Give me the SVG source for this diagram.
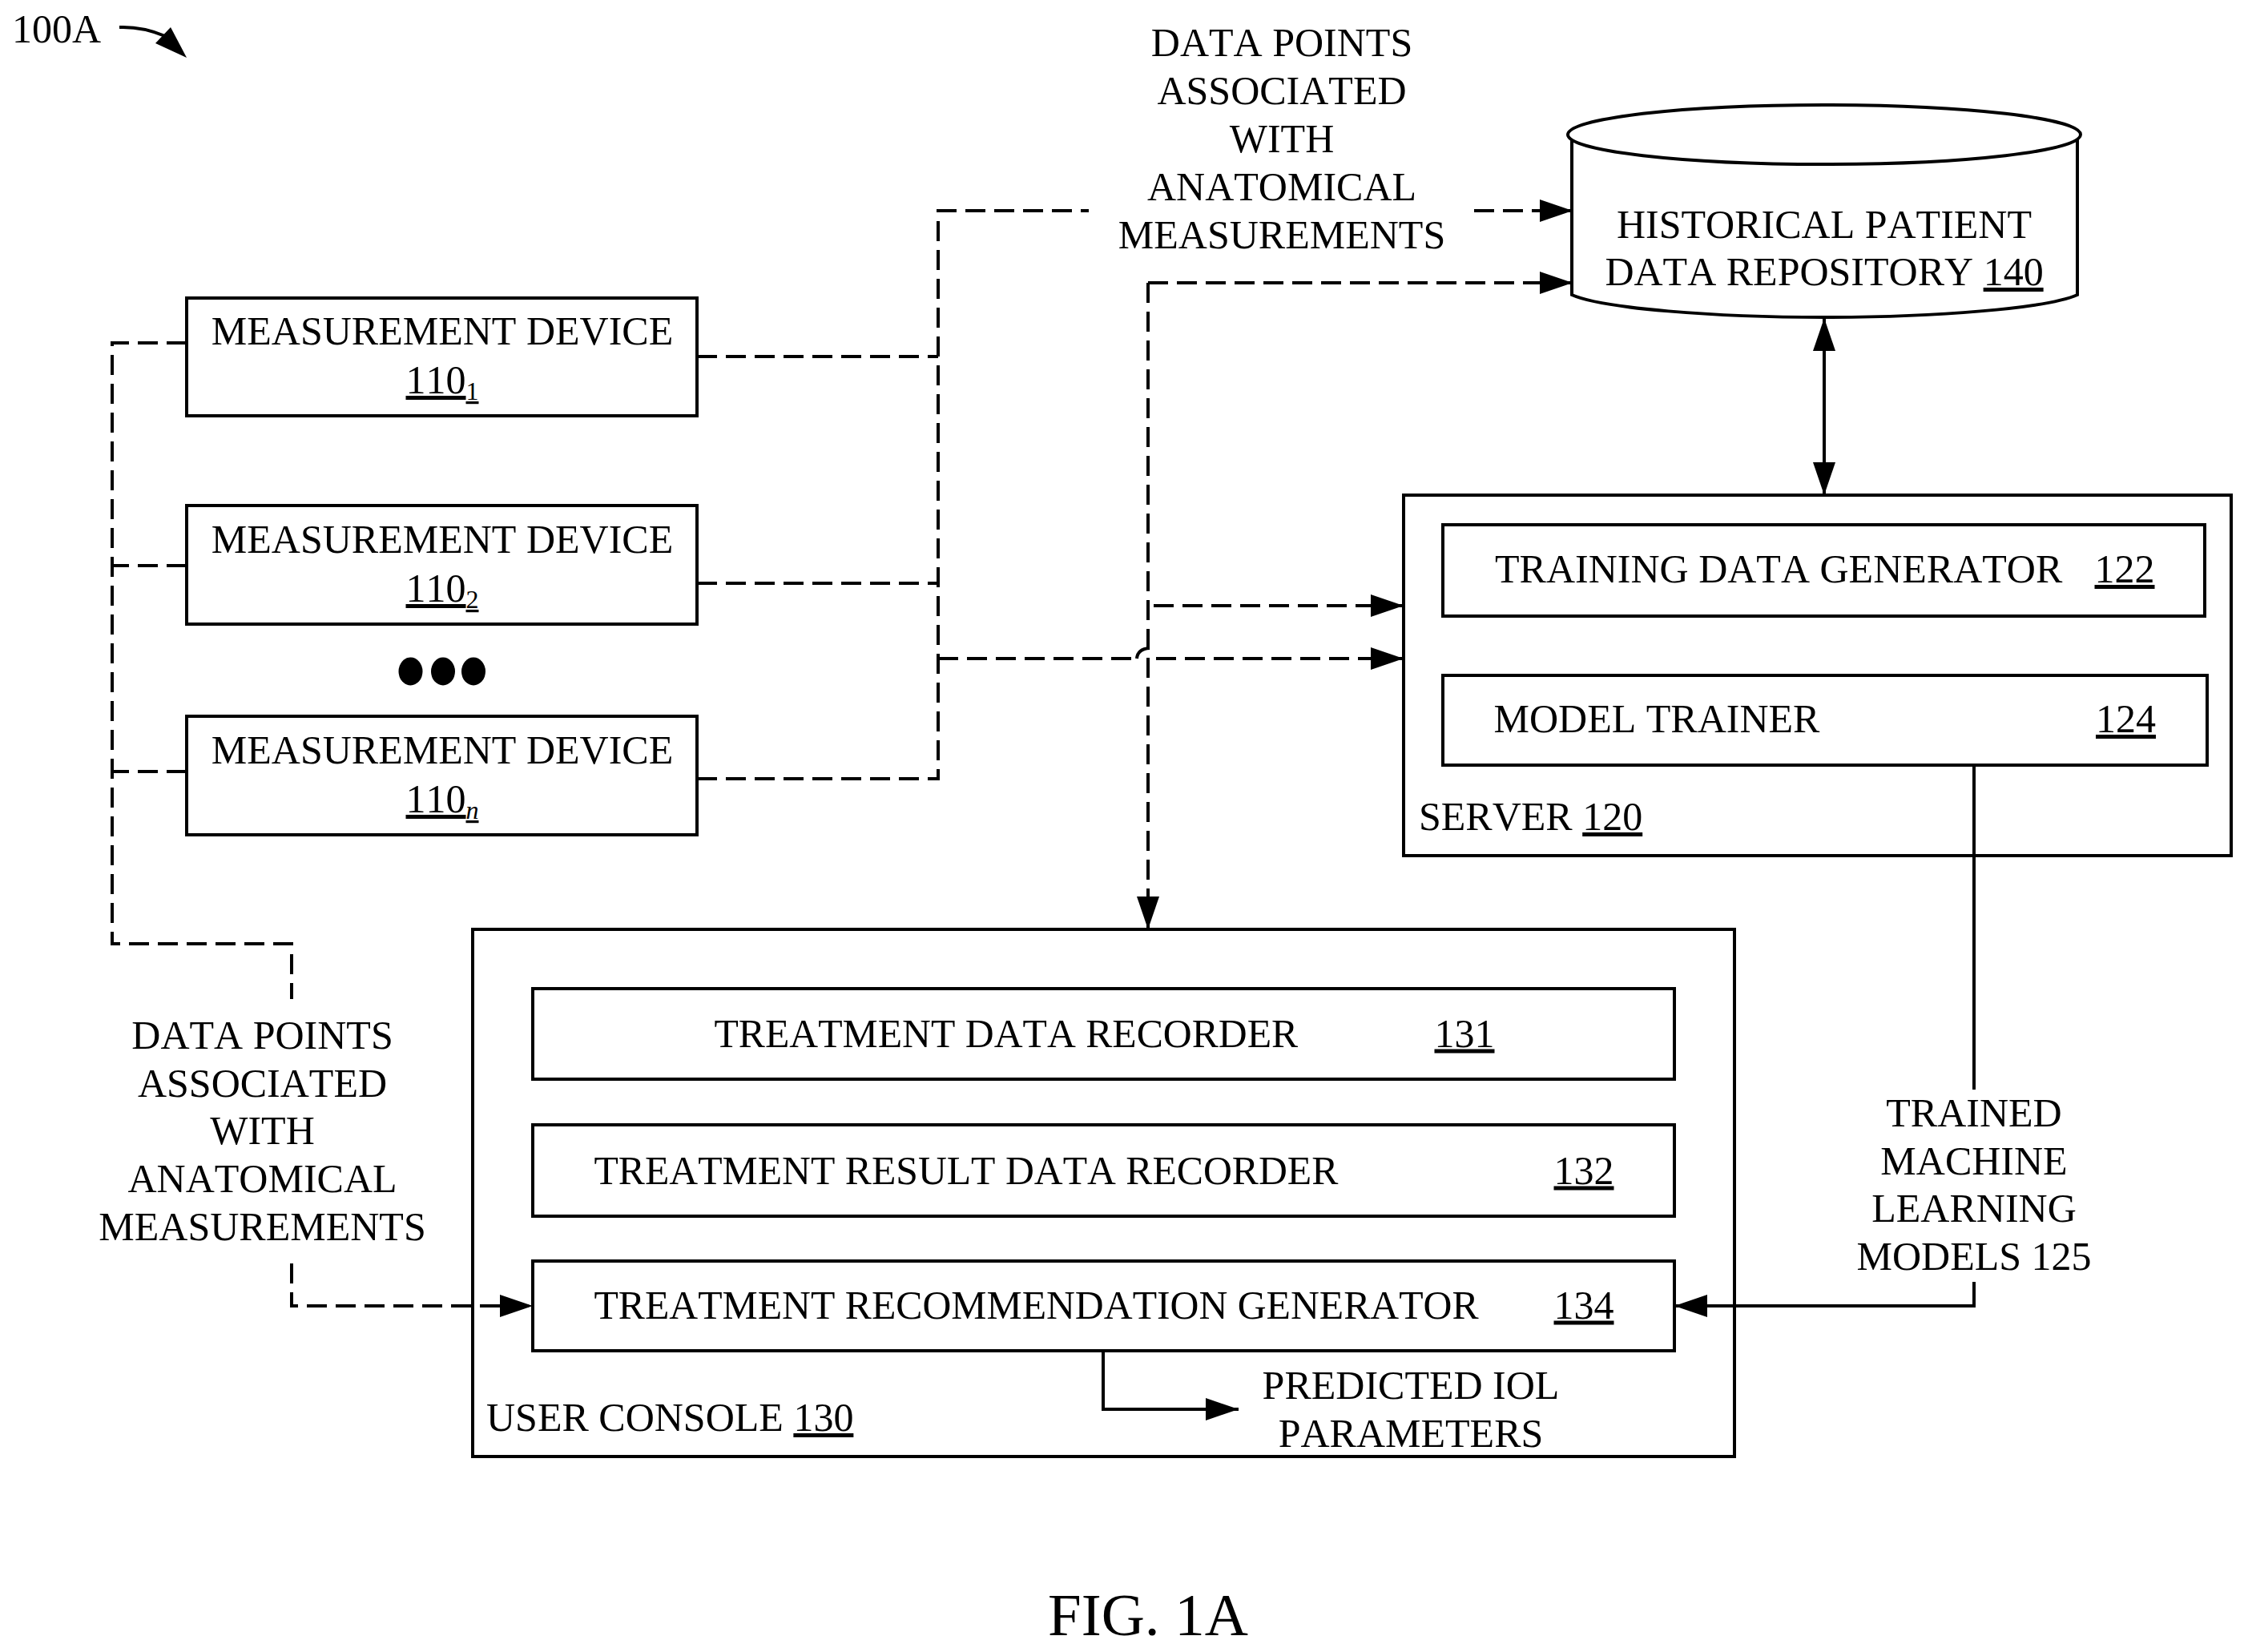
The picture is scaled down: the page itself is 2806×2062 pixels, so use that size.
<svg xmlns="http://www.w3.org/2000/svg" width="2806" height="2062" viewBox="0 0 2806 2062">
<style>
text{font-family:"Liberation Serif","Times New Roman",serif;font-size:50px;fill:#000;font-kerning:none}
.c{text-anchor:middle}
.u{text-decoration:underline}
.sub{font-size:32px}
.t{font-size:49.7px}
.b{fill:#fff;stroke:#000;stroke-width:4}
.d{fill:none;stroke:#000;stroke-width:4;stroke-dasharray:25 11}
.s{fill:none;stroke:#000;stroke-width:4}
.h{marker-end:url(#ah)}
</style>
<defs>
<marker id="ah" markerUnits="userSpaceOnUse" markerWidth="42" markerHeight="30" refX="41" refY="14" orient="auto"><path d="M0 0L41 14L0 28Z" fill="#000"/></marker>
<marker id="as" markerUnits="userSpaceOnUse" markerWidth="42" markerHeight="30" refX="41" refY="14" orient="auto-start-reverse"><path d="M0 0L41 14L0 28Z" fill="#000"/></marker>
</defs>
<rect width="2806" height="2062" fill="#fff"/>
<g id="n100A"><text x="15" y="53" style="font-size:50px">100A</text><path class="s" d="M149 34Q178 33 206 45"/><path d="M233 72L194 54L213 34Z" fill="#000"/></g>
<g id="md1"><rect class="b" x="233" y="372" width="637" height="147"/><text class="c" x="552" y="430">MEASUREMENT DEVICE</text><text class="c u" x="552" y="491">110<tspan class="sub" dy="8">1</tspan></text></g>
<g id="md2"><rect class="b" x="233" y="631" width="637" height="148"/><text class="c" x="552" y="690">MEASUREMENT DEVICE</text><text class="c u" x="552" y="751">110<tspan class="sub" dy="8">2</tspan></text></g>
<g id="mdn"><rect class="b" x="233" y="894" width="637" height="148"/><text class="c" x="552" y="953">MEASUREMENT DEVICE</text><text class="c u" x="552" y="1014">110<tspan class="sub" dy="8" font-style="italic">n</tspan></text></g>
<g id="dots"><ellipse cx="512.500" cy="838" rx="15" ry="17.500"/><ellipse cx="553" cy="838" rx="15" ry="17.500"/><ellipse cx="591" cy="838" rx="15" ry="17.500"/></g>
<g id="repo"><path class="b" d="M1962 172V368C2000 385 2140 396 2277 396S2555 385 2593 368V172"/><ellipse class="b" cx="2277" cy="168" rx="320" ry="37"/><text class="c" x="2277" y="297">HISTORICAL PATIENT</text><text class="c" x="2277" y="356">DATA REPOSITORY <tspan class="u">140</tspan></text></g>
<g id="server"><rect class="b" x="1752" y="618" width="1033" height="450"/><rect class="b" x="1801" y="655" width="951" height="114"/><text x="1866" y="727">TRAINING DATA GENERATOR</text><text class="u" x="2614.500" y="727">122</text><rect class="b" x="1801" y="843" width="954" height="112"/><text x="1864.500" y="914">MODEL TRAINER</text><text class="u" x="2616" y="914">124</text><text x="1771" y="1036">SERVER <tspan class="u">120</tspan></text></g>
<g id="console"><rect class="b" x="590" y="1160" width="1575" height="658"/><rect class="b" x="665" y="1234" width="1425" height="113"/><text class="t" x="891.500" y="1306.500">TREATMENT DATA RECORDER</text><text class="u" x="1790.500" y="1306.500">131</text><rect class="b" x="665" y="1404" width="1425" height="114"/><text class="t" x="741.500" y="1477.500">TREATMENT RESULT DATA RECORDER</text><text class="u" x="1939.500" y="1477.500">132</text><rect class="b" x="665" y="1574" width="1425" height="112"/><text class="t" x="741.500" y="1645.500">TREATMENT RECOMMENDATION GENERATOR</text><text class="u" x="1939.500" y="1645.500">134</text><text x="607" y="1786">USER CONSOLE <tspan class="u">130</tspan></text></g>
<g id="connectors">
<path class="d" d="M870 445H1171"/><path class="d" d="M870 728H1171"/><path class="d" d="M870 972H1171V263H1359"/>
<path class="d" d="M233 428H140V1178H364V1247"/><path class="d" d="M233 706H140"/><path class="d" d="M233 963H140"/>
<path class="d h" d="M364 1577V1630H665"/>
<path class="d h" d="M1840 263H1963"/>
<path class="d h" d="M1433 353H1963"/>
<path class="d h" d="M1433 353V1160"/>
<path class="d h" d="M1440 756H1752"/>
<path class="d" d="M1171 822H1419"/><path class="s" d="M1419 822Q1420 810 1435 809"/><path class="d h" d="M1443 822H1752"/>
<path class="s" style="marker-start:url(#as);marker-end:url(#as)" d="M2277 397V618"/>
<path class="s" d="M2464 955V1360"/>
<path class="s h" d="M2464 1600V1630H2090"/>
<path class="s h" d="M1377 1686V1759H1546"/>
</g>
<g id="labels">
<g><text class="c" x="1600" y="70">DATA POINTS</text><text class="c" x="1600" y="130">ASSOCIATED</text><text class="c" x="1600" y="190">WITH</text><text class="c" x="1600" y="250">ANATOMICAL</text><text class="c" x="1600" y="310">MEASUREMENTS</text></g>
<g><text class="c" x="327.500" y="1308.500">DATA POINTS</text><text class="c" x="327.500" y="1368.500">ASSOCIATED</text><text class="c" x="327.500" y="1428">WITH</text><text class="c" x="327.500" y="1488">ANATOMICAL</text><text class="c" x="327.500" y="1548">MEASUREMENTS</text></g>
<text class="c" x="1761" y="1745.500">PREDICTED IOL</text><text class="c" x="1761" y="1805.500">PARAMETERS</text>
<g><text class="c" x="2464" y="1405.500">TRAINED</text><text class="c" x="2464" y="1465.500">MACHINE</text><text class="c" x="2464" y="1525">LEARNING</text><text class="c" x="2464" y="1585">MODELS 125</text></g>
<text class="c" x="1433" y="2041" style="font-size:75px">FIG. 1A</text>
</g>
</svg>
